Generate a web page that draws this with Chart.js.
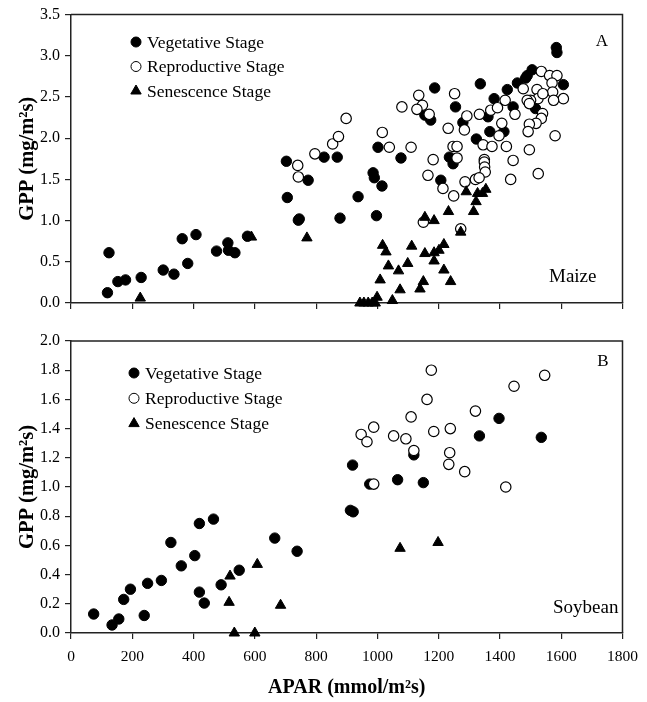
<!DOCTYPE html>
<html>
<head>
<meta charset="utf-8">
<script src="https://cdn.jsdelivr.net/npm/chart.js@4.4.1/dist/chart.umd.min.js"></script>
<style>
  html, body { margin: 0; padding: 0; background: #fff; }
  #wrap { position: relative; width: 647px; height: 702px; }
  #topChart, #bottomChart { position: absolute; left: 0; }
  #topChart { top: 0; }
  #bottomChart { top: 320px; }
</style>
</head>
<body>
<div id="wrap">
  <canvas id="topChart" width="647" height="320"></canvas>
  <canvas id="bottomChart" width="647" height="382"></canvas>
</div>
<script>
// APAR (mmol/m2s) vs GPP (mg/m2s)
const maizeVeg = [
  [124,0.61],[119,0.125],[153,0.26],[178,0.28],[229,0.31],[301,0.40],[336,0.35],[381,0.48],
  [363,0.78],[408,0.83],[475,0.63],[512,0.73],[514,0.64],[535,0.61],[576,0.81],[703,1.72],
  [706,1.28],[742,1.005],[745,1.02],[774,1.49],[826,1.77],[869,1.77],[878,1.03],[937,1.29],
  [986,1.58],[990,1.52],[1015,1.42],[997,1.06],[1002,1.89],[1077,1.76],[1155,2.28],[1174,2.22],
  [1187,2.61],[1255,2.38],[1279,2.19],[1336,2.66],[1361,2.26],[1381,2.48],[1367,2.08],[1323,1.99],
  [1235,1.77],[1247,1.69],[1207,1.49],[1584,3.10],[1586,3.04],[1505,2.83],[1489,2.76],[1484,2.73],
  [1607,2.65],[1457,2.67],[1424,2.59],[1443,2.38],[1516,2.36],[1413,2.08]
];
const maizeRep = [
  [740,1.67],[742,1.53],[796,1.81],[854,1.93],[873,2.02],[898,2.24],[1016,2.07],[1039,1.89],
  [1110,1.89],[1080,2.38],[1135,2.52],[1147,2.40],[1129,2.35],[1169,2.29],[1252,2.54],[1292,2.27],
  [1231,2.12],[1284,2.10],[1333,2.29],[1370,2.34],[1345,1.92],[1374,1.90],[1247,1.90],[1260,1.90],
  [1260,1.76],[1182,1.74],[1349,1.74],[1165,1.55],[1214,1.39],[1249,1.30],[1286,1.47],[1320,1.50],
  [1349,1.71],[1350,1.65],[1352,1.59],[1332,1.52],[1150,0.98],[1272,0.90],[1421,1.90],[1496,1.86],
  [1443,1.73],[1435,1.50],[1525,1.57],[1535,2.81],[1562,2.76],[1586,2.76],[1570,2.67],[1607,2.48],
  [1572,2.56],[1575,2.46],[1521,2.59],[1524,2.48],[1500,2.46],[1476,2.60],[1417,2.46],[1392,2.37],
  [1449,2.29],[1489,2.46],[1539,2.30],[1535,2.24],[1518,2.18],[1496,2.17],[1492,2.08],[1580,2.03],
  [1406,2.18],[1397,2.03],[1540,2.54],[1496,2.42]
];
const maizeSen = [
  [226,0.06],[589,0.80],[770,0.79],[1017,0.70],[1028,0.62],[1036,0.45],[1069,0.39],[1099,0.48],
  [1112,0.69],[1155,0.60],[1009,0.28],[1074,0.16],[999,0.07],[1049,0.03],[943,0],[956,0],
  [970,0],[983,0],[993,0],[1155,1.04],[1185,1.00],[1232,1.11],[1314,1.11],[1290,1.35],
  [1322,1.23],[1327,1.33],[1343,1.33],[1354,1.38],[1272,0.86],[1185,0.61],[1201,0.64],[1217,0.71],
  [1185,0.51],[1217,0.40],[1239,0.26],[1150,0.26],[1139,0.17]
];
const soyVeg = [
  [74,0.13],[134,0.055],[156,0.096],[172,0.23],[194,0.30],[239,0.12],[250,0.34],[295,0.36],
  [326,0.62],[360,0.46],[404,0.53],[419,0.75],[465,0.78],[419,0.28],[435,0.205],[490,0.33],
  [549,0.43],[665,0.65],[738,0.56],[912,0.84],[921,0.83],[919,1.15],[975,1.02],[1066,1.05],
  [1150,1.03],[1119,1.22],[1333,1.35],[1397,1.47],[1535,1.34]
];
const soyRep = [
  [1176,1.80],[1546,1.765],[1446,1.69],[1162,1.60],[1320,1.52],[1110,1.48],[988,1.41],[947,1.36],
  [966,1.31],[1053,1.35],[1093,1.33],[1184,1.38],[1238,1.40],[1119,1.25],[1236,1.235],[1233,1.155],
  [1285,1.105],[1419,1.00],[988,1.02]
];
const soySen = [
  [519,0.39],[608,0.47],[516,0.21],[684,0.19],[533,0],[600,0],[1074,0.58],[1198,0.62]
];
const stageNames = ['Vegetative Stage', 'Reproductive Stage', 'Senescence Stage'];

Chart.defaults.font.family = '"Liberation Serif", "Times New Roman", serif';
Chart.defaults.color = '#000';

const toPts = arr => arr.map(p => ({ x: p[0], y: p[1] }));

function makeSets(veg, rep, sen) {
  return [
    { label: stageNames[0], data: toPts(veg), pointStyle: 'circle', pointRadius: 5.2,
      backgroundColor: '#000', borderColor: '#000', borderWidth: 1, order: 3, clip: false },
    { label: stageNames[1], data: toPts(rep), pointStyle: 'circle', pointRadius: 5.2,
      backgroundColor: '#fff', borderColor: '#000', borderWidth: 1.2, order: 2, clip: false },
    { label: stageNames[2], data: toPts(sen), pointStyle: 'triangle', pointRadius: 6,
      backgroundColor: '#000', borderColor: '#000', borderWidth: 1, order: 1, clip: false }
  ];
}

// frame, in-plot legend and panel labels
const panelPlugin = {
  id: 'panel',
  afterDraw(chart, args, o) {
    const { ctx, chartArea: a } = chart;
    ctx.save();
    ctx.strokeStyle = '#222';
    ctx.lineWidth = 1.5;
    ctx.beginPath();
    ctx.moveTo(a.left, a.top);
    ctx.lineTo(a.right, a.top);
    ctx.lineTo(a.right, a.bottom);
    ctx.stroke();

    ctx.font = '17.5px "Liberation Serif"';
    ctx.textBaseline = 'middle';
    ctx.textAlign = 'left';
    chart.data.datasets.forEach((ds, i) => {
      const y = o.legendY + i * o.legendStep;
      ctx.fillStyle = ds.backgroundColor;
      ctx.strokeStyle = ds.borderColor;
      ctx.lineWidth = 1;
      Chart.helpers.drawPoint(ctx, { pointStyle: ds.pointStyle, radius: ds.pointStyle === 'triangle' ? 6 : 5, borderWidth: 1 }, o.legendX, y);
      ctx.fillStyle = '#000';
      ctx.fillText(ds.label, o.legendX + 11, y + 1);
    });

    ctx.font = '17px "Liberation Serif"';
    ctx.textAlign = 'center';
    ctx.fillText(o.letter, o.letterX, o.letterY);
    ctx.font = '19px "Liberation Serif"';
    ctx.textAlign = 'left';
    ctx.fillText(o.crop, o.cropX, o.cropY);
    ctx.restore();
  }
};

function makeScales(yMax, yStep, xLabels, xHeight) {
  return {
    x: {
      type: 'linear', min: 0, max: 1800,
      ticks: { stepSize: 200, autoSkip: false, maxRotation: 0, padding: 9,
               color: xLabels ? '#000' : 'rgba(0,0,0,0)', font: { size: 15.5 },
               callback: v => String(v) },
      grid: { drawOnChartArea: false, tickLength: 6, color: '#222', lineWidth: 1.2 },
      border: { color: '#222', width: 1.5 },
      title: { display: xLabels, text: 'APAR (mmol/m²s)', font: { size: 20, weight: 'bold' },
               padding: { top: 0, bottom: 2 } },
      afterFit(s) { s.height = xHeight; }
    },
    y: {
      type: 'linear', min: 0, max: yMax,
      ticks: { stepSize: yStep, padding: 5, font: { size: 16 }, callback: v => v.toFixed(1) },
      grid: { drawOnChartArea: false, tickLength: 6, color: '#222', lineWidth: 1.2 },
      border: { color: '#222', width: 1.5 },
      title: { display: true, text: 'GPP (mg/m²s)', font: { size: 20.5, weight: 'bold' },
               padding: { top: 15, bottom: 0 } },
      afterFit(s) { s.width = 71; }
    }
  };
}

new Chart(document.getElementById('topChart'), {
  type: 'scatter',
  data: { datasets: makeSets(maizeVeg, maizeRep, maizeSen) },
  options: {
    responsive: false, animation: false,
    layout: { padding: { top: 14, right: 20, left: 0, bottom: 0 } },
    scales: makeScales(3.5, 0.5, false, 17),
    plugins: {
      legend: { display: false }, tooltip: { enabled: false },
      panel: { legendX: 136, legendY: 42, legendStep: 24.5, letter: 'A', letterX: 602, letterY: 42,
               crop: 'Maize', cropX: 549, cropY: 277 }
    }
  },
  plugins: [panelPlugin]
});

new Chart(document.getElementById('bottomChart'), {
  type: 'scatter',
  data: { datasets: makeSets(soyVeg, soyRep, soySen) },
  options: {
    responsive: false, animation: false,
    layout: { padding: { top: 21, right: 20, left: 0, bottom: 0 } },
    scales: makeScales(2.0, 0.2, true, 69),
    plugins: {
      legend: { display: false }, tooltip: { enabled: false },
      panel: { legendX: 134, legendY: 53, legendStep: 25.3, letter: 'B', letterX: 603, letterY: 42,
               crop: 'Soybean', cropX: 553, cropY: 288 }
    }
  },
  plugins: [panelPlugin]
});
</script>
</body>
</html>
